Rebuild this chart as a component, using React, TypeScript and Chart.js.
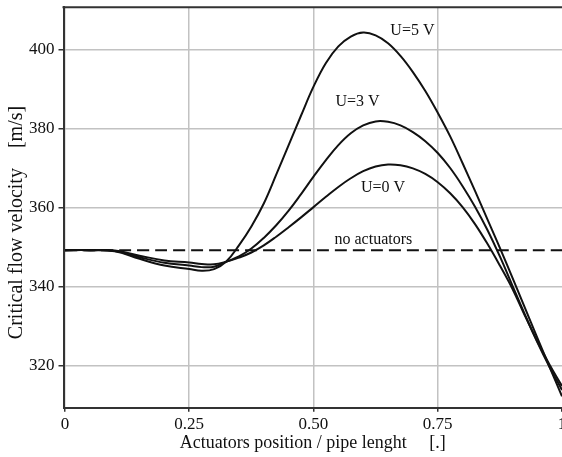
import React, { useEffect, useRef } from 'react';
import { Chart, registerables } from 'chart.js';

Chart.register(...registerables);

// ---- data ----
const X_POS = [0, 0.05, 0.1, 0.15, 0.2, 0.25, 0.275, 0.3, 0.325, 0.35, 0.375, 0.4, 0.425, 0.45, 0.475, 0.5, 0.525, 0.55, 0.575, 0.6, 0.625, 0.65, 0.675, 0.7, 0.725, 0.75, 0.775, 0.8, 0.825, 0.85, 0.875, 0.9, 0.925, 0.95, 0.975, 1];
const U5 = [349.2, 349.2, 348.9, 347.0, 345.3, 344.4, 344.0, 344.4, 346.4, 350.4, 355.2, 361.0, 368.3, 375.8, 383.3, 390.6, 396.6, 400.8, 403.3, 404.3, 403.6, 401.6, 398.4, 394.3, 389.5, 384.0, 378.0, 371.2, 364.2, 357.0, 349.8, 342.3, 334.7, 327.1, 319.6, 312.2];
const U3 = [349.2, 349.2, 349.0, 347.4, 346.0, 345.3, 344.9, 345.0, 346.3, 347.6, 349.6, 352.3, 355.5, 359.2, 363.4, 367.8, 372.0, 375.8, 378.8, 380.8, 381.8, 381.7, 380.8, 379.1, 376.8, 373.8, 370.0, 365.4, 360.2, 354.3, 347.6, 340.3, 333.0, 326.0, 319.6, 313.8];
const U0 = [349.2, 349.2, 349.1, 347.8, 346.6, 346.1, 345.7, 345.6, 346.3, 347.3, 348.6, 350.4, 352.6, 355.0, 357.5, 360.1, 362.7, 365.2, 367.4, 369.2, 370.4, 370.9, 370.7, 369.9, 368.5, 366.4, 363.6, 360.1, 355.8, 350.8, 345.3, 339.5, 332.7, 326.2, 320.2, 314.8];
const BASE_X = [0, 1];
const BASE_Y = [349.2, 349.2];

const X_TICKS = [0, 0.25, 0.5, 0.75, 1];
const X_TICK_LABELS = ['0', '0.25', '0.50', '0.75', '1'];
const Y_TICKS = [320, 340, 360, 380, 400];
const Y_TICK_LABELS = ['320', '340', '360', '380', '400'];

const CURVE_LABELS = ['U=5 V', 'U=3 V', 'U=0 V', 'no actuators'];
const LABEL_X = [0.699, 0.5885, 0.64, 0.6205];
const LABEL_Y = [404.7, 386.8, 364.9, 351.8];

const X_TITLE = 'Actuators position / pipe lenght     [.]';
const Y_TITLE = 'Critical flow velocity    [m/s]      ';

const FAMILY = '"Liberation Serif", "Times New Roman", serif';

const toPoints = (xs: number[], ys: number[]) => xs.map((x, i) => ({ x, y: ys[i] }));

const frameAndLabels = {
  id: 'frameAndLabels',
  afterDraw(chart: any) {
    const { ctx, chartArea, scales } = chart;
    ctx.save();
    ctx.strokeStyle = '#333';
    ctx.lineWidth = 2;
    ctx.beginPath();
    ctx.moveTo(chartArea.left - 1, chartArea.top);
    ctx.lineTo(chartArea.right, chartArea.top);
    ctx.stroke();

    ctx.fillStyle = '#111';
    ctx.font = `16px ${FAMILY}`;
    ctx.textAlign = 'center';
    ctx.textBaseline = 'middle';
    CURVE_LABELS.forEach((t, i) => {
      ctx.fillText(t, scales.x.getPixelForValue(LABEL_X[i]), scales.y.getPixelForValue(LABEL_Y[i]));
    });
    ctx.restore();
  },
};

export default function App() {
  const ref = useRef<HTMLCanvasElement | null>(null);

  useEffect(() => {
    document.body.style.margin = '0';
    const canvas = ref.current;
    if (!canvas) return;
    const line = (data: number[], xs: number[], dashed = false) => ({
      data: toPoints(xs, data),
      borderColor: '#111',
      borderWidth: 2,
      borderDash: dashed ? [12, 6] : [],
      pointRadius: 0,
      fill: false,
      tension: 0.4,
    });
    const chart = new Chart(canvas, {
      type: 'line',
      data: {
        datasets: [line(BASE_Y, BASE_X, true), line(U0, X_POS), line(U3, X_POS), line(U5, X_POS)],
      },
      plugins: [frameAndLabels],
      options: {
        animation: false,
        responsive: false,
        devicePixelRatio: 1,
        layout: { padding: { top: 7.3, left: 0, right: 0, bottom: 0 } },
        plugins: { legend: { display: false }, tooltip: { enabled: false } },
        scales: {
          x: {
            type: 'linear',
            min: -0.003,
            max: 1,
            afterBuildTicks: (s: any) => {
              s.ticks = X_TICKS.map((v) => ({ value: v }));
            },
            afterFit: (s: any) => {
              s.height = 49.3;
              s.paddingLeft = 0;
              s.paddingRight = 0;
            },
            ticks: {
              callback: (_v: any, i: number) => X_TICK_LABELS[i],
              font: { family: FAMILY, size: 17 },
              color: '#111',
              padding: 3,
              maxRotation: 0,
              autoSkip: false,
            },
            grid: {
              color: (c: any) => (c.tick && c.tick.value === 1 ? 'rgba(0,0,0,0)' : '#c2c2c2'),
              lineWidth: 1.5,
              tickLength: 4,
              tickColor: '#333',
              tickWidth: 1.5,
            },
            border: { display: true, color: '#333', width: 2 },
            title: {
              display: true,
              text: X_TITLE,
              font: { family: FAMILY, size: 18 },
              color: '#111',
              padding: { top: 0, bottom: 3 },
            },
          },
          y: {
            type: 'linear',
            min: 309.3,
            max: 410.7,
            afterBuildTicks: (s: any) => {
              s.ticks = Y_TICKS.map((v) => ({ value: v }));
            },
            afterFit: (s: any) => {
              s.width = 63.5;
              s.paddingTop = 0;
              s.paddingBottom = 0;
            },
            ticks: {
              callback: (_v: any, i: number) => Y_TICK_LABELS[i],
              font: { family: FAMILY, size: 17 },
              color: '#111',
              padding: 4,
              autoSkip: false,
            },
            grid: {
              color: '#c2c2c2',
              lineWidth: 1.5,
              tickLength: 5,
              tickColor: '#333',
              tickWidth: 1.5,
            },
            border: { display: true, color: '#333', width: 2 },
            title: {
              display: true,
              text: Y_TITLE,
              font: { family: FAMILY, size: 20 },
              color: '#111',
              padding: { top: 5, bottom: 0 },
            },
          },
        },
      },
    });
    return () => chart.destroy();
  }, []);

  return (
    <div style={{ width: 562, height: 457 }}>
      <canvas ref={ref} width={562} height={457} />
    </div>
  );
}
